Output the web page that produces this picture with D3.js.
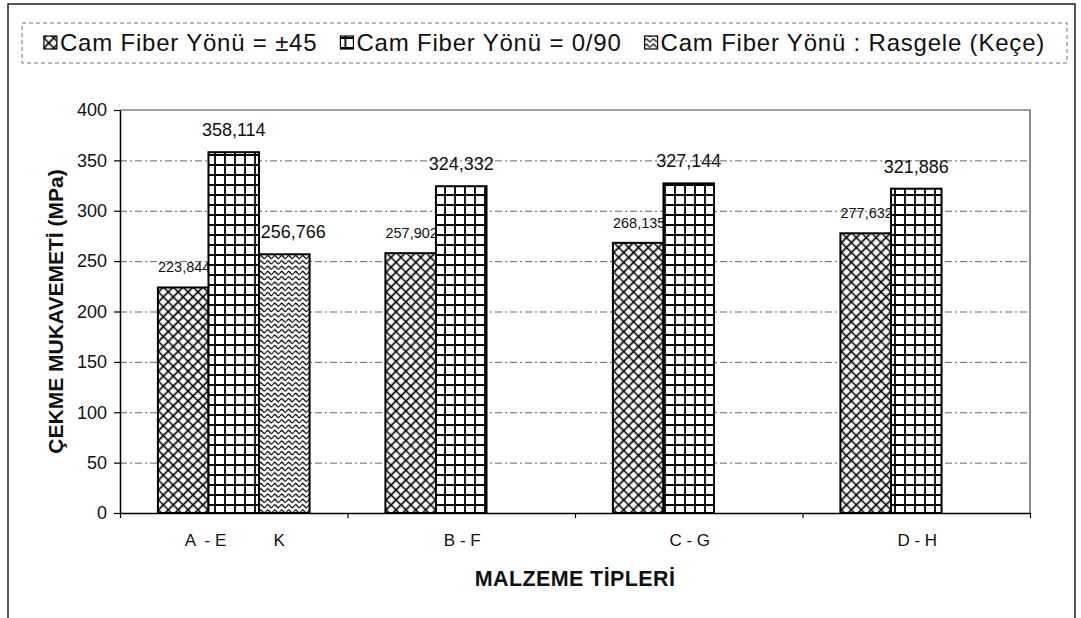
<!DOCTYPE html>
<html>
<head>
<meta charset="utf-8">
<script src="https://cdn.jsdelivr.net/npm/d3@7"></script>
<style>
  html, body { margin: 0; padding: 0; background: #fff; }
  svg { display: block; font-family: "Liberation Sans", Arial, sans-serif; }
  .xlab { white-space: pre; }
</style>
</head>
<body>
<svg id="chart" width="1081" height="618"></svg>
<script>
// ---- data ----
const categories = ["A-E", "B-F", "C-G", "D-H"];
const categoryLabels = ["A  - E          K", "B - F", "C - G", "D - H"];
const seriesNames = [
  "Cam Fiber Yönü = ±45",
  "Cam Fiber Yönü = 0/90",
  "Cam Fiber Yönü : Rasgele (Keçe)"
];
const valuesPm45 = [223.844, 257.902, 268.135, 277.632];
const values090  = [358.114, 324.332, 327.144, 321.886];
const valuesKece = [256.766, null, null, null];
const yTicks = [0, 50, 100, 150, 200, 250, 300, 350, 400];
const yTitle = "ÇEKME MUKAVEMETİ (MPa)";
const xTitle = "MALZEME TİPLERİ";

// ---- layout ----
const plot = { left: 120, right: 1030, top: 110, bottom: 513 };
const svg = d3.select("#chart");
const defs = svg.append("defs");

// fill patterns for the three fibre orientations
const pCross = defs.append("pattern").attr("id", "pat-cross")
  .attr("patternUnits", "userSpaceOnUse").attr("width", 7).attr("height", 7)
  .attr("patternTransform", "rotate(45)");
pCross.append("rect").attr("width", 7).attr("height", 7).attr("fill", "#fff");
pCross.append("path").attr("d", "M3.5,0V7M0,3.5H7")
  .attr("stroke", "#000").attr("stroke-width", 1.7);

const pGrid = defs.append("pattern").attr("id", "pat-grid")
  .attr("patternUnits", "userSpaceOnUse").attr("width", 10).attr("height", 10);
pGrid.append("rect").attr("width", 10).attr("height", 10).attr("fill", "#fff");
pGrid.append("path").attr("d", "M5,0V10M0,5H10")
  .attr("stroke", "#000").attr("stroke-width", 1.8);

const pWave = defs.append("pattern").attr("id", "pat-wave")
  .attr("patternUnits", "userSpaceOnUse").attr("width", 7).attr("height", 5.3);
pWave.append("rect").attr("width", 7).attr("height", 5.3).attr("fill", "#fff");
pWave.append("path").attr("d", "M0,2.65 C1.75,0.6 1.75,0.6 3.5,2.65 S5.25,4.7 7,2.65")
  .attr("fill", "none").attr("stroke", "#000").attr("stroke-width", 1.2);

const fills = ["url(#pat-cross)", "url(#pat-grid)", "url(#pat-wave)"];

// ---- outer frame ----
svg.append("path")
  .attr("d", "M8,640V4H1075V640")
  .attr("fill", "none").attr("stroke", "#222").attr("stroke-width", 1.5);

// ---- scales ----
const x0 = d3.scaleBand().domain(categories).range([plot.left, plot.right])
  .paddingInner(0).paddingOuter(0);
const x1 = d3.scaleBand().domain(d3.range(seriesNames.length))
  .range([0, x0.bandwidth()]).paddingInner(0).paddingOuter(0.75);
const y = d3.scaleLinear().domain([0, 400]).range([plot.bottom, plot.top]);

// ---- gridlines ----
svg.append("g").attr("transform", `translate(${plot.left},0)`)
  .call(d3.axisLeft(y).tickValues(yTicks.filter(v => v > 0 && v < 400))
    .tickSize(-(plot.right - plot.left)).tickFormat(""))
  .call(g => g.select(".domain").remove())
  .call(g => g.selectAll("line").attr("stroke", "#666").attr("stroke-width", 1)
    .attr("stroke-dasharray", "7,3,2,3"));

// plot area top / right edges
svg.append("path")
  .attr("d", `M${plot.left},${plot.top}H${plot.right}V${plot.bottom}`)
  .attr("fill", "none").attr("stroke", "#444").attr("stroke-width", 1.2);

// ---- bars and value labels, series by series ----
const fmt = d3.formatLocale({ decimal: ",", thousands: ".", grouping: [3], currency: ["", ""] }).format(".3f");
const seriesValues = [valuesPm45, values090, valuesKece];
const labelSize = [14.5, 18, 18];

seriesValues.forEach((vals, si) => {
  const rows = categories.map((c, i) => ({ c, v: vals[i] })).filter(d => d.v != null);
  svg.append("g").selectAll("rect").data(rows).join("rect")
    .attr("x", d => x0(d.c) + x1(si))
    .attr("y", d => y(d.v))
    .attr("width", x1.bandwidth())
    .attr("height", d => y(0) - y(d.v))
    .attr("fill", fills[si])
    .attr("stroke", "#000").attr("stroke-width", 2);
  svg.append("g").selectAll("text").data(rows).join("text")
    .attr("x", d => x0(d.c) + x1(si) + x1.bandwidth() / 2 + (si === 0 ? 1 : si === 2 ? 9 : 0))
    .attr("y", d => y(d.v) - (si === 0 ? 15 : 16))
    .attr("text-anchor", "middle")
    .attr("font-size", labelSize[si])
    .attr("fill", "#111")
    .text(d => fmt(d.v));
});

// ---- y axis ----
svg.append("g").attr("transform", `translate(${plot.left},0)`)
  .call(d3.axisLeft(y).tickValues(yTicks).tickSize(6).tickSizeOuter(0).tickPadding(7))
  .call(g => g.select(".domain").attr("stroke", "#000").attr("stroke-width", 1.5))
  .call(g => g.selectAll(".tick line").attr("stroke", "#000").attr("stroke-width", 1.2))
  .call(g => g.selectAll(".tick text").attr("font-size", 18).attr("fill", "#111")
    .attr("font-family", "Liberation Sans, Arial, sans-serif"));

// ---- x axis ----
const xEdge = d3.scaleLinear().domain([0, categories.length]).range([plot.left, plot.right]);
svg.append("g").attr("transform", `translate(0,${plot.bottom})`)
  .call(d3.axisBottom(xEdge).tickValues(d3.range(categories.length + 1))
    .tickSize(5).tickSizeOuter(0).tickFormat(""))
  .call(g => g.select(".domain").attr("stroke", "#000").attr("stroke-width", 1.5))
  .call(g => g.selectAll(".tick line").attr("stroke", "#000").attr("stroke-width", 1.2));

svg.append("g").selectAll("text").data(categories).join("text")
  .attr("class", "xlab")
  .attr("x", c => x0(c) + x0.bandwidth() / 2 + 1)
  .attr("y", 546)
  .attr("text-anchor", "middle")
  .attr("font-size", 17)
  .attr("fill", "#111")
  .text((c, i) => categoryLabels[i]);

// ---- axis titles ----
svg.append("text")
  .attr("transform", `translate(63,${(plot.top + plot.bottom) / 2}) rotate(-90)`)
  .attr("text-anchor", "middle")
  .attr("font-size", 21).attr("font-weight", "bold").attr("fill", "#111")
  .text(yTitle);

svg.append("text")
  .attr("x", (plot.left + plot.right) / 2).attr("y", 586)
  .attr("text-anchor", "middle")
  .attr("font-size", 21.5).attr("font-weight", "bold").attr("fill", "#111")
  .attr("letter-spacing", 0.4)
  .text(xTitle);

// ---- legend ----
const legBox = { x: 22, y: 23, w: 1045, h: 40 };
svg.append("rect")
  .attr("x", legBox.x).attr("y", legBox.y).attr("width", legBox.w).attr("height", legBox.h)
  .attr("fill", "none").attr("stroke", "#777").attr("stroke-width", 1)
  .attr("stroke-dasharray", "4,3");

const legend = svg.append("g");
const items = legend.selectAll("g").data(seriesNames).join("g");
items.append("rect")
  .attr("x", 0).attr("y", -7).attr("width", 13).attr("height", 13)
  .attr("fill", (d, i) => fills[i]).attr("stroke", "#000").attr("stroke-width", 1.2);
items.append("text")
  .attr("x", 16).attr("y", 8)
  .attr("font-size", 24).attr("letter-spacing", 0.8).attr("fill", "#111")
  .text(d => d);

const swatch = 16, itemGap = 23;
const widths = [];
items.each(function () { widths.push(swatch + d3.select(this).select("text").node().getComputedTextLength()); });
const total = d3.sum(widths) + itemGap * (widths.length - 1);
let cx = legBox.x + (legBox.w - total) / 2;
items.attr("transform", (d, i) => {
  const t = `translate(${cx},${legBox.y + legBox.h / 2})`;
  cx += widths[i] + itemGap;
  return t;
});
</script>
</body>
</html>
